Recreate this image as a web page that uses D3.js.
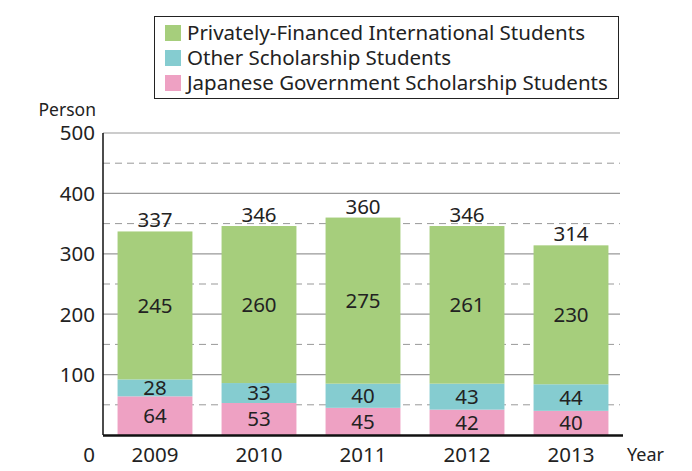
<!DOCTYPE html>
<html>
<head>
<meta charset="utf-8">
<script src="https://cdn.jsdelivr.net/npm/d3@7"></script>
<style>
  body { margin: 0; background: #fff; }
  svg text { font-family: "Noto Sans", "Open Sans", sans-serif; fill: #222; }
</style>
</head>
<body>
<svg id="chart" width="692" height="471"></svg>
<script>
const years = ["2009", "2010", "2011", "2012", "2013"];
const japaneseGov = [64, 53, 45, 42, 40];
const otherScholarship = [28, 33, 40, 43, 44];
const privateFinanced = [245, 260, 275, 261, 230];
const totals = [337, 346, 360, 346, 314];
const yTicks = [0, 100, 200, 300, 400, 500];
const dashTicks = [50, 150, 250, 350, 450];

const seriesNames = [
  "Japanese Government Scholarship Students",
  "Other Scholarship Students",
  "Privately-Financed International Students",
];
const colors = ["#eea1c3", "#85ccd0", "#a6ce7c"];

const svg = d3.select("#chart");
const plotLeft = 103,
  plotRight = 623,
  plotTop = 133,
  plotBottom = 435;
const fs = "20.5px";

const x = d3
  .scaleBand()
  .domain(years)
  .range([plotLeft, plotRight])
  .paddingInner(0.28)
  .paddingOuter(0.14);
const y = d3.scaleLinear().domain([0, 500]).range([plotBottom, plotTop]);

const rows = years.map((yr, i) => ({
  year: yr,
  [seriesNames[0]]: japaneseGov[i],
  [seriesNames[1]]: otherScholarship[i],
  [seriesNames[2]]: privateFinanced[i],
}));
const stacked = d3.stack().keys(seriesNames)(rows);

// grid lines
svg
  .append("g")
  .selectAll("line")
  .data(yTicks.filter((d) => d > 0))
  .join("line")
  .attr("x1", plotLeft)
  .attr("x2", 620)
  .attr("y1", (d) => y(d))
  .attr("y2", (d) => y(d))
  .attr("stroke", "#999")
  .attr("stroke-width", 1.2);

svg
  .append("g")
  .selectAll("line")
  .data(dashTicks)
  .join("line")
  .attr("x1", plotLeft)
  .attr("x2", 620)
  .attr("y1", (d) => y(d))
  .attr("y2", (d) => y(d))
  .attr("stroke", "#999")
  .attr("stroke-width", 1)
  .attr("stroke-dasharray", "7,5");

// bars
const layer = svg
  .append("g")
  .selectAll("g")
  .data(stacked)
  .join("g")
  .attr("fill", (d, i) => colors[i]);

layer
  .selectAll("rect")
  .data((d) => d)
  .join("rect")
  .attr("x", (d) => x(d.data.year))
  .attr("width", x.bandwidth())
  .attr("y", (d) => y(d[1]))
  .attr("height", (d) => y(d[0]) - y(d[1]));

// segment labels
svg
  .append("g")
  .selectAll("g")
  .data(stacked)
  .join("g")
  .selectAll("text")
  .data((d) => d)
  .join("text")
  .attr("x", (d) => x(d.data.year) + x.bandwidth() / 2)
  .attr("y", (d) => y((d[0] + d[1]) / 2))
  .attr("dy", "0.36em")
  .attr("text-anchor", "middle")
  .style("font-size", fs)
  .text((d) => d[1] - d[0]);

// totals
svg
  .append("g")
  .selectAll("text")
  .data(totals)
  .join("text")
  .attr("x", (d, i) => x(years[i]) + x.bandwidth() / 2)
  .attr("y", (d) => y(d) - 4)
  .attr("text-anchor", "middle")
  .style("font-size", fs)
  .text((d) => d);

// axes
svg
  .append("line")
  .attr("x1", plotLeft)
  .attr("x2", plotLeft)
  .attr("y1", y(500))
  .attr("y2", plotBottom)
  .attr("stroke", "#111")
  .attr("stroke-width", 1.5);
svg
  .append("line")
  .attr("x1", plotLeft)
  .attr("x2", plotRight)
  .attr("y1", plotBottom + 0.5)
  .attr("y2", plotBottom + 0.5)
  .attr("stroke", "#111")
  .attr("stroke-width", 2.5);

svg
  .append("g")
  .selectAll("text")
  .data(yTicks.filter((d) => d > 0))
  .join("text")
  .attr("x", 95)
  .attr("y", (d) => y(d))
  .attr("dy", "0.36em")
  .attr("text-anchor", "end")
  .style("font-size", fs)
  .text((d) => d);

svg
  .append("text")
  .attr("x", 95)
  .attr("y", 462)
  .attr("text-anchor", "end")
  .style("font-size", fs)
  .text("0");

svg
  .append("g")
  .selectAll("text")
  .data(years)
  .join("text")
  .attr("x", (d) => x(d) + x.bandwidth() / 2)
  .attr("y", 462)
  .attr("text-anchor", "middle")
  .style("font-size", fs)
  .text((d) => d);

svg
  .append("text")
  .attr("x", 627)
  .attr("y", 461)
  .style("font-size", "18px")
  .text("Year");

svg
  .append("text")
  .attr("x", 96)
  .attr("y", 116)
  .attr("text-anchor", "end")
  .style("font-size", "17.5px")
  .text("Person");

// legend
const legend = svg.append("g");
legend
  .append("rect")
  .attr("x", 154.5)
  .attr("y", 16.5)
  .attr("width", 464)
  .attr("height", 82)
  .attr("fill", "#fff")
  .attr("stroke", "#222")
  .attr("stroke-width", 1);

const legendOrder = [2, 1, 0];
const item = legend
  .selectAll("g")
  .data(legendOrder)
  .join("g")
  .attr("transform", (d, i) => `translate(165, ${25 + i * 25})`);
item
  .append("rect")
  .attr("width", 16)
  .attr("height", 16)
  .attr("fill", (d) => colors[d]);
item
  .append("text")
  .attr("x", 22)
  .attr("y", 8)
  .attr("dy", "0.36em")
  .style("font-size", fs)
  .text((d) => seriesNames[d]);
</script>
</body>
</html>
